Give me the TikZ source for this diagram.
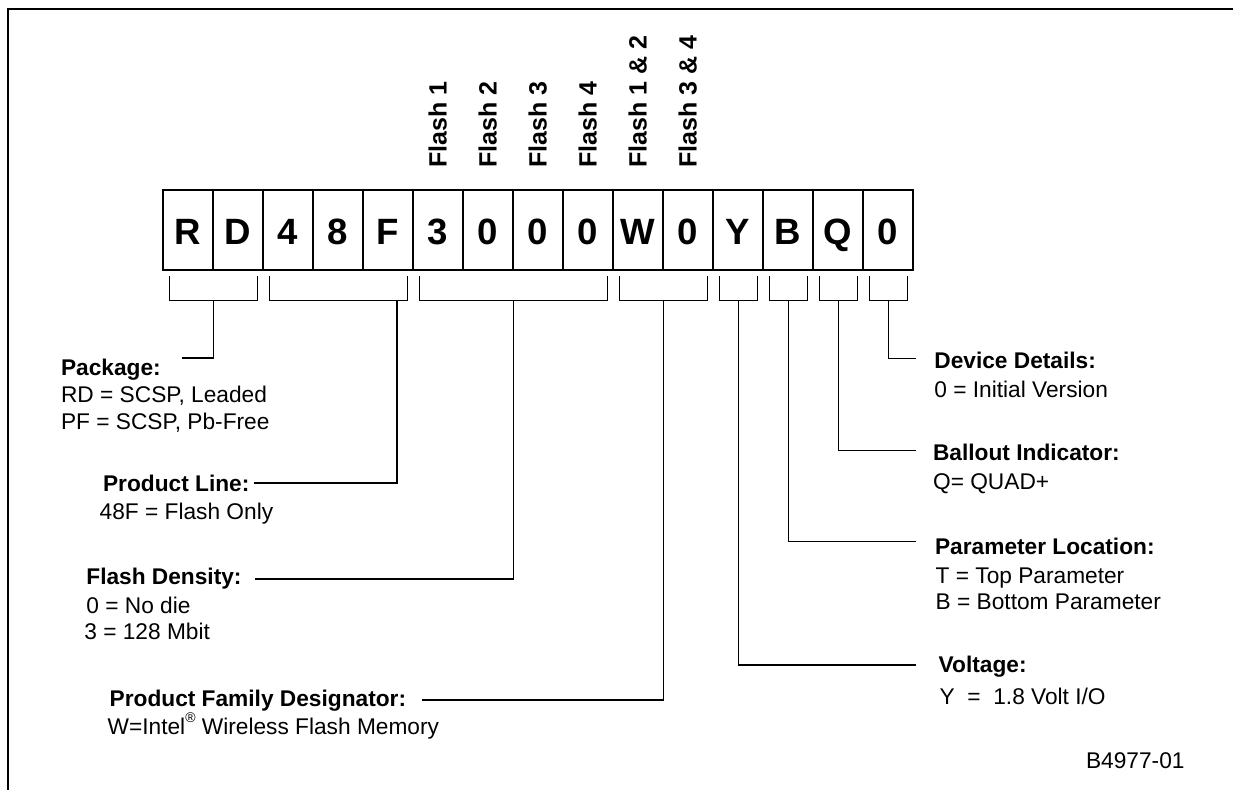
\documentclass[tikz,border=0pt]{standalone}
\usepackage{fontspec}
\setmainfont{Liberation Sans}
\begin{document}
\begin{tikzpicture}[x=0.5pt,y=-0.5pt,
  cellbox/.style={draw, line width=0.8pt, minimum width=25pt, minimum height=40pt,
    inner sep=0pt, outer sep=0pt, text height=15pt, text depth=0pt,
    font=\fontsize{18.3}{20}\selectfont\bfseries},
  vlabel/.style={rotate=90, anchor=base west, inner sep=0pt,
    font=\fontsize{12.5}{14}\selectfont\bfseries},
  head/.style={anchor=base west, inner sep=0pt, font=\fontsize{11.35}{13}\selectfont\bfseries},
  desc/.style={anchor=base west, inner sep=0pt, font=\fontsize{11.35}{13}\selectfont},
  brk/.style={line width=0.65pt},
  conn/.style={line width=0.65pt},
  frame/.style={line width=1pt}]
\useasboundingbox (0,0) rectangle (1233,790);
% frame (top and left only)
\draw[frame] (7,9) -- (1233,9);
\draw[frame] (8,9) -- (8,790);
% cells
\foreach \ch [count=\i] in {R,D,4,8,F,3,0,0,0,W,0,Y,B,Q,0} {
  \node[cellbox] (c\i) at ({188+50*(\i-1)},230) {\ch};
}
% vertical labels
\node[vlabel] (f1) at (446.7,168) {Flash 1};
\node[vlabel] (f2) at (496.7,168) {Flash 2};
\node[vlabel] (f3) at (546.7,168) {Flash 3};
\node[vlabel] (f4) at (596.7,168) {Flash 4};
\node[vlabel] (f12) at (646.7,168) {Flash 1 \& 2};
\node[vlabel] (f34) at (696.7,168) {Flash 3 \& 4};
% brackets
\foreach \l/\r in {169.5/257.5, 269.5/407.5, 419.5/607.5, 619.5/707.5,
                   719.5/757.5, 769.5/807.5, 819.5/857.5, 869.5/907.5} {
  \draw[brk] (\l,276.5) -- (\l,300.5) -- (\r,300.5) -- (\r,276.5);
}
\coordinate (gRD) at (213.5,300.5);
\coordinate (gPL) at (397,300.5);
\coordinate (gFD) at (513.5,300.5);
\coordinate (gPF) at (663.5,300.5);
\coordinate (gY) at (738.5,300.5);
\coordinate (gB) at (788.5,300.5);
\coordinate (gQ) at (838.5,300.5);
\coordinate (g0) at (888.5,300.5);
% line ends
\coordinate (ePkg) at (182,358);
\coordinate (ePL) at (253.5,483);
\coordinate (eFD) at (255,579);
\coordinate (ePF) at (422,700);
\coordinate (eDD) at (915.7,358.7);
\coordinate (eBI) at (915.7,450.7);
\coordinate (ePLoc) at (915.7,541.7);
\coordinate (eV) at (915.7,665);
\draw[conn] (gRD) |- (ePkg);
\draw[conn] (gPL) |- (ePL);
\draw[conn] (gFD) |- (eFD);
\draw[conn] (gPF) |- (ePF);
\draw[conn] (g0) |- (eDD);
\draw[conn] (gQ) |- (eBI);
\draw[conn] (gB) |- (ePLoc);
\draw[conn] (gY) |- (eV);
% left texts
\node[head] (pkgH) at (60.7,376) {Package:};
\node[desc] (pkg1) at (60.7,402.3) {RD = SCSP, Leaded};
\node[desc] (pkg2) at (60.7,429.3) {PF = SCSP, Pb-Free};
\node[head] (plH) at (102.7,491.7) {Product Line:};
\node[desc] (pl1) at (99.3,520) {48F = Flash Only};
\node[head] (fdH) at (86,585) {Flash Density:};
\node[desc] (fd1) at (86,613.3) {0 = No die};
\node[desc] (fd2) at (84,640) {3 = 128 Mbit};
\node[head] (pfH) at (109.3,706.7) {Product Family Designator:};
\node[desc] (pf1) at (107.3,735) {W=Intel\raisebox{1.05ex}{\fontsize{7}{7}\selectfont\textregistered} Wireless Flash Memory};
% right texts
\node[head] (ddH) at (934,368.3) {Device Details:};
\node[desc] (dd1) at (934,397.3) {0 = Initial Version};
\node[head] (biH) at (932.7,460.7) {Ballout Indicator:};
\node[desc] (bi1) at (932.7,490) {Q= QUAD+};
\node[head] (plocH) at (934.7,554.3) {Parameter Location:};
\node[desc] (ploc1) at (935.3,583.3) {T = Top Parameter};
\node[desc] (ploc2) at (935.3,610) {B = Bottom Parameter};
\node[head] (vH) at (938.3,672.7) {Voltage:};
\node[desc] (v1) at (939.3,705) {Y\ \ =\ \ 1.8 Volt I/O};
\node[desc] (fig) at (1085.7,768.3) {B4977-01};
\end{tikzpicture}
\end{document}
